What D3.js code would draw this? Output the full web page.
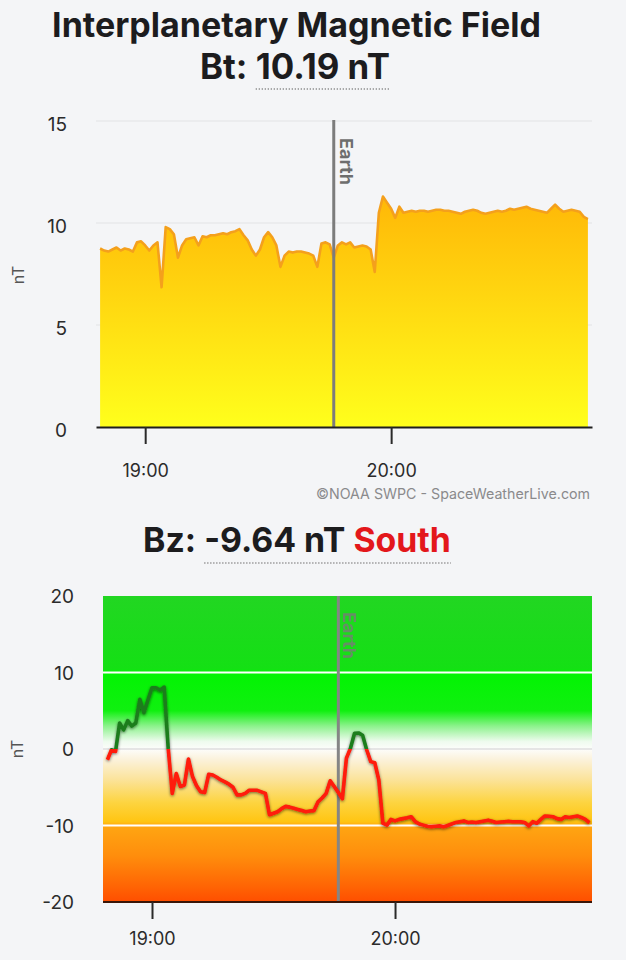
<!DOCTYPE html>
<html>
<head>
<meta charset="utf-8">
<script src="https://cdn.jsdelivr.net/npm/d3@7"></script>
<style>
  html, body { margin: 0; padding: 0; background: #f4f5f7; }
  svg { display: block; font-family: Inter, "Noto Sans", sans-serif; }
</style>
</head>
<body>
<svg id="chart" width="626" height="960"></svg>
<script>
'use strict';

// ---- data ----
var minutes = [
  "18:49","18:50","18:51","18:52","18:53","18:54","18:55","18:56","18:57","18:58",
  "18:59","19:00","19:01","19:02","19:03","19:04","19:05","19:06","19:07","19:08",
  "19:09","19:10","19:11","19:12","19:13","19:14","19:15","19:16","19:17","19:18",
  "19:19","19:20","19:21","19:22","19:23","19:24","19:25","19:26","19:27","19:28",
  "19:29","19:30","19:31","19:32","19:33","19:34","19:35","19:36","19:37","19:38",
  "19:39","19:40","19:41","19:42","19:43","19:44","19:45","19:46","19:47","19:48",
  "19:49","19:50","19:51","19:52","19:53","19:54","19:55","19:56","19:57","19:58",
  "19:59","20:00","20:01","20:02","20:03","20:04","20:05","20:06","20:07","20:08",
  "20:09","20:10","20:11","20:12","20:13","20:14","20:15","20:16","20:17","20:18",
  "20:19","20:20","20:21","20:22","20:23","20:24","20:25","20:26","20:27","20:28",
  "20:29","20:30","20:31","20:32","20:33","20:34","20:35","20:36","20:37","20:38",
  "20:39","20:40","20:41","20:42","20:43","20:44","20:45","20:46","20:47","20:48"
];

var btValues = [
  8.75, 8.65, 8.6, 8.7, 8.8, 8.65, 8.75, 8.7, 8.6, 9.05,
  9.1, 8.9, 8.65, 8.9, 9.05, 6.85, 9.8, 9.7, 9.45, 8.3,
  8.9, 9.2, 9.25, 9.3, 8.9, 9.35, 9.3, 9.4, 9.4, 9.45,
  9.5, 9.45, 9.55, 9.6, 9.7, 9.4, 9.15, 8.7, 8.4, 8.7,
  9.3, 9.55, 9.3, 8.9, 7.85, 8.4, 8.6, 8.55, 8.6, 8.6,
  8.55, 8.5, 8.4, 7.85, 9.0, 9.05, 8.95, 8.3, 8.9, 9.05,
  8.95, 9.05, 8.8, 8.85, 8.9, 8.85, 8.7, 7.6, 10.5, 11.3,
  11.0, 10.7, 10.25, 10.8, 10.5, 10.55, 10.6, 10.55, 10.6, 10.6,
  10.55, 10.6, 10.65, 10.65, 10.6, 10.6, 10.55, 10.5, 10.45, 10.55,
  10.6, 10.65, 10.6, 10.5, 10.45, 10.5, 10.55, 10.6, 10.55, 10.6,
  10.7, 10.65, 10.7, 10.75, 10.8, 10.7, 10.65, 10.6, 10.55, 10.5,
  10.7, 10.9, 10.7, 10.55, 10.6, 10.65, 10.6, 10.55, 10.3, 10.19
];

var bzValues = [
  -1.4, -0.1, -0.3, 3.4, 2.5, 3.7, 3.0, 3.4, 6.5, 4.75,
  6.4, 8.0, 8.0, 7.7, 8.1, 0.1, -5.8, -3.2, -4.9, -4.7,
  -1.3, -3.6, -4.8, -5.6, -5.7, -3.3, -3.4, -3.7, -4.05, -4.3,
  -4.6, -5.0, -6.0, -6.0, -5.8, -5.4, -5.4, -5.4, -5.6, -5.8,
  -8.6, -8.4, -8.2, -7.8, -7.5, -7.6, -7.75, -7.9, -8.05, -8.2,
  -8.1, -8.05, -6.9, -6.4, -5.8, -4.15, -4.9, -5.7, -6.5, -1.2,
  0.1, 2.05, 2.1, 1.8, -0.1, -1.65, -1.8, -4.05, -9.7, -9.95,
  -9.2, -9.4, -9.2, -9.1, -9.0, -8.85, -9.5, -9.8, -9.95, -10.1,
  -10.15, -10.1, -10.05, -10.15, -10.0, -9.8, -9.6, -9.5, -9.4, -9.6,
  -9.55, -9.6, -9.5, -9.4, -9.3, -9.45, -9.6, -9.55, -9.5, -9.45,
  -9.5, -9.5, -9.5, -9.6, -10.05, -9.5, -9.7, -9.2, -8.75, -8.8,
  -8.85, -9.1, -9.2, -8.85, -8.95, -8.85, -8.75, -8.95, -9.2, -9.64
];

var btTicks = [0, 5, 10, 15];
var bzTicks = [-20, -10, 0, 10, 20];
var timeTicks = ["19:00", "20:00"];
var timeDomain = ["18:48", "20:49"];
var earthTime = "19:46";
var btNow = "10.19 nT";
var bzNow = "-9.64 nT";

// ---- helpers ----
var parse = d3.timeParse("%H:%M");
var fmt = d3.timeFormat("%H:%M");
var svg = d3.select("#chart");
var defs = svg.append("defs");

function fitText(sel, width) {
  var w = sel.node().getComputedTextLength();
  var fs = parseFloat(sel.attr("font-size"));
  sel.attr("font-size", (fs * width / w).toFixed(2));
}

function underline(textSel, fromChar, y) {
  var node = textSel.node();
  var box = node.getBBox();
  var x0 = box.x + node.getSubStringLength(0, fromChar);
  svg.append("line")
    .attr("x1", x0).attr("x2", box.x + box.width)
    .attr("y1", y).attr("y2", y)
    .attr("stroke", "#8e8e8e")
    .attr("stroke-width", 1.3)
    .attr("stroke-dasharray", "1.3,1.7");
}

var btData = minutes.map(function(t, i) { return { t: parse(t), v: btValues[i] }; });
var bzData = minutes.map(function(t, i) { return { t: parse(t), v: bzValues[i] }; });

// ---- titles ----
var t1 = svg.append("text")
  .attr("x", 296.5).attr("y", 37)
  .attr("text-anchor", "middle")
  .attr("font-size", 33).attr("font-weight", 700)
  .attr("fill", "#1c1c1e")
  .text("Interplanetary Magnetic Field");
fitText(t1, 489);

var t2 = svg.append("text")
  .attr("x", 295).attr("y", 79)
  .attr("text-anchor", "middle")
  .attr("font-size", 33).attr("font-weight", 700)
  .attr("fill", "#1c1c1e")
  .text("Bt: " + btNow);
fitText(t2, 190);
underline(t2, 4, 89);

// ---- Bt chart ----
var bt = { left: 96, right: 592, top: 121, bottom: 427 };
var xBt = d3.scaleTime().domain(timeDomain.map(parse)).range([bt.left, bt.right]);
var yBt = d3.scaleLinear().domain([0, 15]).range([bt.bottom, bt.top]);

var gBt = svg.append("g");

gBt.selectAll(".grid").data(btTicks.filter(function(d) { return d > 0; }))
  .enter().append("line")
  .attr("x1", bt.left).attr("x2", bt.right)
  .attr("y1", function(d) { return yBt(d); })
  .attr("y2", function(d) { return yBt(d); })
  .attr("stroke", "#e2e3e6").attr("stroke-width", 1.2);

var gradBt = defs.append("linearGradient")
  .attr("id", "btFill")
  .attr("gradientUnits", "userSpaceOnUse")
  .attr("x1", 0).attr("x2", 0)
  .attr("y1", yBt(15)).attr("y2", yBt(0));
gradBt.append("stop").attr("offset", 0).attr("stop-color", "#ffa000");
gradBt.append("stop").attr("offset", 1).attr("stop-color", "#ffff1c");

var area = d3.area()
  .x(function(d) { return xBt(d.t); })
  .y0(yBt(0))
  .y1(function(d) { return yBt(d.v); });
var line = d3.line()
  .x(function(d) { return xBt(d.t); })
  .y(function(d) { return yBt(d.v); });

gBt.append("path").datum(btData)
  .attr("d", area)
  .attr("fill", "url(#btFill)");
gBt.append("path").datum(btData)
  .attr("d", line)
  .attr("fill", "none")
  .attr("stroke", "#f4a01c")
  .attr("stroke-width", 2.6)
  .attr("stroke-linejoin", "round");

// earth marker
gBt.append("line")
  .attr("x1", xBt(parse(earthTime))).attr("x2", xBt(parse(earthTime)))
  .attr("y1", bt.top - 1).attr("y2", bt.bottom)
  .attr("stroke", "#7c7c7c").attr("stroke-width", 3);
gBt.append("text")
  .attr("transform", "translate(" + (xBt(parse(earthTime)) + 6) + "," + 138 + ") rotate(90)")
  .attr("font-size", 18).attr("font-weight", 700)
  .attr("fill", "#6e6e6e")
  .text("Earth");

// axes
var axBt = d3.axisBottom(xBt)
  .tickValues(timeTicks.map(parse))
  .tickFormat(fmt)
  .tickSize(17).tickSizeOuter(0).tickPadding(20);
var gAxBt = gBt.append("g").attr("transform", "translate(0," + bt.bottom + ")").call(axBt);
gAxBt.select(".domain").attr("stroke", "#1e1e1e").attr("stroke-width", 2.2);
gAxBt.selectAll(".tick line").attr("stroke", "#2a2a2a").attr("stroke-width", 2);
gAxBt.selectAll(".tick text").attr("font-size", 18).attr("fill", "#2b2b2b")
  .attr("font-family", "Inter, sans-serif");

gBt.selectAll(".ylab").data(btTicks).enter().append("text")
  .attr("x", 67).attr("y", function(d) { return yBt(d); })
  .attr("dy", "0.5em")
  .attr("text-anchor", "end")
  .attr("font-size", 19).attr("fill", "#2b2b2b")
  .text(function(d) { return d; });

gBt.append("text")
  .attr("transform", "translate(24," + ((bt.top + bt.bottom) / 2 + 1) + ") rotate(-90)")
  .attr("text-anchor", "middle")
  .attr("font-size", 16).attr("fill", "#555")
  .text("nT");

var copy = svg.append("text")
  .attr("x", 590).attr("y", 499)
  .attr("text-anchor", "end")
  .attr("font-size", 15).attr("fill", "#8a8a8c")
  .text("\u00A9NOAA SWPC - SpaceWeatherLive.com");
fitText(copy, 274);

// ---- Bz title ----
var t3 = svg.append("text")
  .attr("x", 297).attr("y", 552)
  .attr("text-anchor", "middle")
  .attr("font-size", 30).attr("font-weight", 700)
  .attr("fill", "#1c1c1e");
t3.append("tspan").text("Bz: " + bzNow + " ");
t3.append("tspan").attr("fill", "#e3171b").text("South");
fitText(t3, 308);
underline(t3, 4, 563);

// ---- Bz chart ----
var bz = { left: 103, right: 592, top: 596, bottom: 902 };
var xBz = d3.scaleTime().domain(timeDomain.map(parse)).range([103.4, 593.5]);
var yBz = d3.scaleLinear().domain([-20, 20]).range([bz.bottom, bz.top]);

var gBz = svg.append("g");

var gradBz = defs.append("linearGradient")
  .attr("id", "bzFill")
  .attr("gradientUnits", "userSpaceOnUse")
  .attr("x1", 0).attr("x2", 0)
  .attr("y1", yBz(20)).attr("y2", yBz(-20));
var bzStops = [
  [20, "#22d622"], [10.5, "#14e014"], [10, "#02f402"], [5, "#10f010"],
  [3, "#8cf28c"], [1, "#eefbee"], [0, "#fdfdfb"], [-1.5, "#fbf1d8"],
  [-4, "#fbe39a"], [-7, "#fdd440"], [-9.5, "#ffc512"], [-10, "#ffa612"],
  [-14, "#ff8d0c"], [-18, "#ff6404"], [-20, "#ff4e00"]
];
gradBz.selectAll("stop").data(bzStops).enter().append("stop")
  .attr("offset", function(d) { return (20 - d[0]) / 40; })
  .attr("stop-color", function(d) { return d[1]; });

gBz.append("rect")
  .attr("x", bz.left).attr("y", bz.top)
  .attr("width", bz.right - bz.left).attr("height", bz.bottom - bz.top)
  .attr("fill", "url(#bzFill)");

gBz.selectAll(".grid").data([10, -10]).enter().append("line")
  .attr("x1", bz.left).attr("x2", bz.right)
  .attr("y1", function(d) { return yBz(d); })
  .attr("y2", function(d) { return yBz(d); })
  .attr("stroke", "#ffffff").attr("stroke-width", 2);
gBz.append("line")
  .attr("x1", bz.left).attr("x2", bz.right)
  .attr("y1", yBz(0)).attr("y2", yBz(0))
  .attr("stroke", "#dedede").attr("stroke-width", 1.5);

// earth marker
gBz.append("line")
  .attr("x1", xBz(parse(earthTime))).attr("x2", xBz(parse(earthTime)))
  .attr("y1", bz.top).attr("y2", bz.bottom)
  .attr("stroke", "#858585").attr("stroke-width", 3);
gBz.append("text")
  .attr("transform", "translate(" + (xBz(parse(earthTime)) + 5) + "," + 612 + ") rotate(90)")
  .attr("font-size", 18).attr("font-weight", 700)
  .attr("fill", "#7a7a7a").attr("opacity", 0.8)
  .text("Earth");

// line split at zero: green above, red below
var shadow = defs.append("filter").attr("id", "shadow")
  .attr("x", "-5%").attr("y", "-20%").attr("width", "110%").attr("height", "140%");
shadow.append("feDropShadow")
  .attr("dx", 0).attr("dy", 1).attr("stdDeviation", 1.6)
  .attr("flood-color", "#000").attr("flood-opacity", 0.55);

defs.append("clipPath").attr("id", "clipPos").append("rect")
  .attr("x", bz.left).attr("y", bz.top)
  .attr("width", bz.right - bz.left).attr("height", yBz(0) - bz.top);
defs.append("clipPath").attr("id", "clipNeg").append("rect")
  .attr("x", bz.left).attr("y", yBz(0))
  .attr("width", bz.right - bz.left).attr("height", bz.bottom - yBz(0));

var bzLine = d3.line()
  .x(function(d) { return xBz(d.t); })
  .y(function(d) { return yBz(d.v); });

var gLine = gBz.append("g").attr("filter", "url(#shadow)");
gLine.append("path").datum(bzData)
  .attr("d", bzLine)
  .attr("clip-path", "url(#clipPos)")
  .attr("fill", "none").attr("stroke", "#1d7d1d")
  .attr("stroke-width", 3.6).attr("stroke-linejoin", "round");
gLine.append("path").datum(bzData)
  .attr("d", bzLine)
  .attr("clip-path", "url(#clipNeg)")
  .attr("fill", "none").attr("stroke", "#ff1a08")
  .attr("stroke-width", 3.6).attr("stroke-linejoin", "round");

var axBz = d3.axisBottom(xBz)
  .tickValues(timeTicks.map(parse))
  .tickFormat(fmt)
  .tickSize(17).tickSizeOuter(0).tickPadding(13);
var gAxBz = gBz.append("g").attr("transform", "translate(0," + bz.bottom + ")").call(axBz);
gAxBz.select(".domain").attr("d", "M" + bz.left + ",0H" + bz.right)
  .attr("stroke", "#3a1608").attr("stroke-width", 2.2);
gAxBz.selectAll(".tick line").attr("stroke", "#2a2a2a").attr("stroke-width", 2);
gAxBz.selectAll(".tick text").attr("font-size", 18).attr("fill", "#2b2b2b")
  .attr("font-family", "Inter, sans-serif");

gBz.selectAll(".ylab").data(bzTicks).enter().append("text")
  .attr("x", 74).attr("y", function(d) { return yBz(d); })
  .attr("dy", "0.38em")
  .attr("text-anchor", "end")
  .attr("font-size", 19).attr("fill", "#2b2b2b")
  .text(function(d) { return d; });

gBz.append("text")
  .attr("transform", "translate(23," + yBz(0) + ") rotate(-90)")
  .attr("text-anchor", "middle")
  .attr("font-size", 16).attr("fill", "#555")
  .text("nT");
</script>
</body>
</html>
